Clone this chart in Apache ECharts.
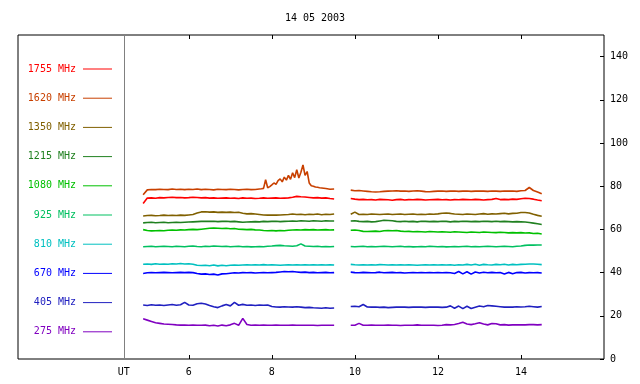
<!DOCTYPE html>
<html>
<head>
<meta charset="utf-8">
<script src="https://cdn.jsdelivr.net/npm/echarts@6/dist/echarts.min.js"></script>
<style>html,body{margin:0;padding:0;background:#fff}#c{width:640px;height:384px}</style>
</head>
<body>
<div id="c"></div>
<script>
const titleText = '14 05 2003';
const xTickValues = [6, 8, 10, 12, 14];
const utPosition = 4.436;
const yTickValues = [0, 20, 40, 60, 80, 100, 120, 140];

const timesA = [4.9,5.0,5.1,5.2,5.3,5.4,5.5,5.6,5.7,5.8,
  5.9,6.0,6.1,6.2,6.3,6.4,6.5,6.6,6.7,6.8,
  6.9,7.0,7.1,7.2,7.3,7.4,7.5,7.6,7.7,7.8,
  7.9,8.0,8.1,8.2,8.3,8.4,8.5,8.6,8.7,8.8,
  8.9,9.0,9.1,9.2,9.3,9.4,9.5];
const timesB = [9.9,10.0,10.1,10.2,10.3,10.4,10.5,10.6,10.7,10.8,
  10.9,11.0,11.1,11.2,11.3,11.4,11.5,11.6,11.7,11.8,
  11.9,12.0,12.1,12.2,12.3,12.4,12.5,12.6,12.7,12.8,
  12.9,13.0,13.1,13.2,13.3,13.4,13.5,13.6,13.7,13.8,
  13.9,14.0,14.1,14.2,14.3,14.4,14.5];
const t1620A = [4.9,5.0,5.1,5.2,5.3,5.4,5.5,5.6,5.7,5.8,
  5.9,6.0,6.1,6.2,6.3,6.4,6.5,6.6,6.7,6.8,
  6.9,7.0,7.1,7.2,7.3,7.4,7.5,7.6,7.7,
  7.75,7.8,7.85,7.9,7.95,8.0,8.05,8.1,8.15,8.2,
  8.25,8.3,8.35,8.4,8.45,8.5,8.55,8.6,8.65,8.7,
  8.75,8.8,8.85,8.9,8.95,9.0,9.05,9.1,9.15,
  9.2,9.3,9.4,9.5];

const labels = ['1755 MHz','1620 MHz','1350 MHz','1215 MHz','1080 MHz','925 MHz','810 MHz','670 MHz','405 MHz','275 MHz'];
const colors = ['#ff0000','#c84000','#806000','#208020','#00c000','#00c060','#00c0c0','#0000ff','#2020c0','#8000c0'];

const v1755A = [72.0,74.5,74.6,74.4,74.7,74.6,74.8,74.9,74.7,74.8,
  74.6,74.7,74.9,74.8,74.6,74.7,74.5,74.6,74.4,74.5,
  74.6,74.4,74.5,74.3,74.6,74.4,74.5,74.3,74.4,74.6,
  74.4,74.5,74.6,74.4,74.5,74.6,74.9,75.3,75.1,75.0,
  74.8,74.6,74.7,74.5,74.6,74.3,74.1];
const v1755B = [74.3,74.0,73.8,73.9,73.7,73.8,73.6,73.9,73.8,73.7,
  73.5,73.8,73.9,73.6,73.8,73.7,73.9,73.8,73.6,73.7,
  73.8,73.9,73.7,73.8,73.6,73.8,73.7,73.9,73.8,73.7,
  73.9,73.8,73.6,73.8,73.9,74.3,73.8,73.9,73.8,74.0,
  73.9,74.2,74.4,74.3,74.0,73.6,73.3];
const v1620A = [76.0,78.3,78.5,78.4,78.6,78.5,78.4,78.7,78.5,78.6,
  78.4,78.6,78.5,78.7,78.4,78.6,78.5,78.3,78.6,78.5,
  78.4,78.6,78.5,78.3,78.5,78.6,78.4,78.5,78.7,
  78.8,79.0,83.0,79.3,79.8,80.6,81.5,80.8,82.6,83.4,
  82.0,84.2,82.8,85.0,83.2,86.2,84.0,87.6,83.8,86.5,
  89.8,85.0,86.8,81.5,80.2,80.0,79.6,79.5,79.3,
  79.2,78.9,78.6,78.7];
const v1620B = [78.2,77.9,78.0,77.8,77.6,77.4,77.3,77.4,77.6,77.7,
  77.8,77.9,77.7,77.8,77.6,77.8,77.9,77.7,77.5,77.4,
  77.6,77.7,77.8,77.6,77.7,77.8,77.6,77.7,77.8,77.6,
  77.7,77.8,77.7,77.6,77.8,77.7,77.6,77.8,77.7,77.8,
  77.6,77.9,78.0,79.4,78.0,77.3,76.5];
const v1350A = [66.2,66.4,66.5,66.3,66.4,66.6,66.4,66.5,66.4,66.6,
  66.5,66.7,66.9,67.6,68.1,68.2,68.0,68.1,67.9,68.0,
  67.9,68.0,67.8,67.9,67.5,67.2,67.3,67.1,66.9,66.7,
  66.6,66.7,66.6,66.7,66.8,66.9,67.1,66.9,67.0,66.8,
  67.0,66.9,67.1,66.8,67.0,66.9,67.1];
const v1350B = [67.0,68.0,66.9,67.0,66.9,67.1,67.0,66.9,67.0,67.1,
  66.9,67.0,67.1,66.9,67.0,67.1,66.9,67.0,66.9,67.1,
  67.0,67.2,67.5,67.6,67.4,67.1,67.0,66.9,67.1,67.0,
  66.9,67.1,67.3,67.0,67.2,67.1,67.3,67.5,67.2,67.4,
  67.5,67.8,67.8,67.6,67.0,66.5,66.1];
const v1215A = [63.0,63.2,63.3,63.1,63.2,63.3,63.1,63.2,63.3,63.2,
  63.3,63.4,63.5,63.6,63.7,63.8,63.7,63.8,63.6,63.7,
  63.8,63.6,63.7,63.5,63.3,63.4,63.5,63.6,63.5,63.7,
  63.6,63.7,63.8,63.6,63.7,63.8,63.9,63.8,64.0,63.9,
  63.8,64.0,63.9,63.8,64.0,63.9,63.9];
const v1215B = [63.9,64.0,63.7,63.6,63.7,63.5,63.6,63.9,64.2,64.1,
  64.0,63.7,63.6,63.8,63.6,63.7,63.5,63.8,63.7,63.6,
  63.7,63.6,63.8,63.7,63.5,63.7,63.6,63.8,63.7,63.6,
  63.7,63.6,63.8,63.7,63.6,63.8,63.6,63.7,63.6,63.5,
  63.6,63.5,63.4,63.2,62.9,62.6,62.3];
const v1080A = [59.9,59.5,59.3,59.4,59.5,59.4,59.6,59.7,59.6,59.8,
  59.7,59.9,60.0,59.9,60.1,60.3,60.5,60.6,60.5,60.4,
  60.5,60.3,60.4,60.1,60.0,59.9,60.0,59.8,59.7,59.5,
  59.4,59.5,59.3,59.5,59.4,59.6,59.7,59.8,59.7,59.9,
  59.8,59.9,59.7,59.8,59.9,59.7,59.8];
const v1080B = [59.6,59.7,59.5,59.1,59.0,59.1,59.2,59.0,59.4,59.5,
  59.4,59.5,59.2,59.0,59.1,58.9,59.0,58.9,58.8,59.0,
  58.9,58.8,58.9,58.8,58.7,58.9,58.8,58.7,58.6,58.8,
  58.7,58.6,58.8,58.7,58.6,58.5,58.7,58.6,58.4,58.5,
  58.4,58.5,58.3,58.4,58.1,58.2,57.9];
const v925A = [52.0,52.1,52.2,52.0,52.1,52.2,52.1,52.0,52.2,52.1,
  52.0,52.2,52.3,52.1,52.0,52.2,52.1,52.3,52.2,52.1,
  52.2,52.0,52.1,52.2,52.0,52.1,51.9,52.0,52.1,52.0,
  52.2,52.3,52.5,52.6,52.4,52.3,52.2,52.4,53.3,52.3,
  52.2,52.1,52.2,52.0,52.1,52.0,52.1];
const v925B = [52.1,52.0,52.1,52.2,52.0,52.1,52.0,52.1,52.2,52.1,
  52.0,52.1,52.2,52.0,52.1,51.9,52.0,52.1,52.0,52.2,
  52.1,52.0,52.1,51.9,52.0,52.1,52.0,52.1,52.2,52.0,
  52.1,52.0,52.1,52.2,52.1,52.0,52.1,52.2,52.1,52.0,
  52.2,52.3,52.6,52.8,52.7,52.8,52.8];
const v810A = [43.9,44.0,43.8,44.1,43.9,44.0,43.9,44.1,44.0,44.2,
  44.0,44.1,43.9,43.4,43.3,43.4,43.2,43.5,43.1,43.4,
  43.2,43.4,43.5,43.4,43.5,43.6,43.5,43.6,43.5,43.7,
  43.5,43.6,43.5,43.4,43.5,43.6,43.5,43.6,43.5,43.6,
  43.5,43.6,43.5,43.6,43.5,43.6,43.5];
const v810B = [43.8,43.6,43.5,43.6,43.5,43.6,43.5,43.7,43.6,43.5,
  43.6,43.5,43.6,43.5,43.6,43.5,43.4,43.5,43.6,43.5,
  43.6,43.5,43.6,43.5,43.6,43.4,43.6,43.5,43.8,43.5,
  43.9,43.4,43.8,43.6,43.5,43.8,43.6,43.9,43.5,43.8,
  43.6,43.8,43.9,44.0,44.0,43.9,43.7];
const v670A = [39.6,39.9,40.0,39.9,40.0,40.1,40.0,39.9,40.0,40.1,
  40.0,40.1,40.0,39.6,39.3,39.4,39.1,39.3,38.9,39.4,
  39.5,39.7,39.9,39.8,40.0,39.9,40.0,39.8,39.9,40.0,
  39.9,40.0,40.1,40.3,40.5,40.4,40.5,40.3,40.1,40.2,
  40.0,40.1,39.9,40.0,40.1,39.9,40.0];
const v670B = [40.2,40.0,39.9,40.1,40.0,39.9,40.0,40.2,39.9,40.0,
  40.1,39.9,40.0,39.8,39.9,40.0,39.9,40.0,39.9,40.0,
  39.9,40.0,39.9,40.0,39.9,39.6,40.5,39.4,40.4,39.3,
  40.3,39.8,40.2,39.9,40.1,39.9,40.0,39.4,40.1,39.5,
  40.0,40.1,39.8,40.0,39.9,40.0,39.8];
const v405A = [25.0,24.8,25.1,24.9,25.0,24.8,25.0,25.2,24.9,25.1,
  26.2,25.0,24.9,25.6,25.8,25.5,24.8,24.2,23.8,24.6,
  25.2,24.6,26.2,24.9,25.3,24.9,25.0,24.8,25.0,24.9,
  25.0,24.3,24.1,24.0,24.2,24.1,24.0,24.2,24.0,23.8,
  23.9,23.7,23.6,23.5,23.7,23.5,23.6];
const v405B = [24.3,24.4,24.2,25.2,24.1,24.0,24.1,23.9,24.0,23.8,
  23.9,24.0,24.1,24.0,23.9,24.0,24.1,24.0,23.9,24.0,
  24.1,24.0,23.9,24.0,24.6,23.5,24.5,23.3,24.4,23.4,
  24.0,24.5,24.2,24.8,24.6,24.4,24.2,24.0,24.1,24.0,
  24.2,24.1,24.2,24.4,24.2,24.0,24.3];
const v275A = [18.6,18.0,17.4,16.8,16.5,16.2,16.1,16.0,15.8,15.7,
  15.7,15.6,15.7,15.6,15.6,15.7,15.4,15.6,15.3,15.7,
  15.4,15.8,16.5,15.6,18.8,16.0,15.6,15.7,15.6,15.7,
  15.6,15.6,15.7,15.6,15.6,15.6,15.7,15.6,15.6,15.6,
  15.6,15.6,15.5,15.6,15.6,15.6,15.6];
const v275B = [15.6,15.6,16.5,15.6,15.6,15.7,15.6,15.6,15.6,15.7,
  15.6,15.6,15.5,15.6,15.6,15.6,15.8,15.6,15.6,15.6,
  15.6,15.5,15.6,15.9,15.8,16.0,16.4,17.0,16.2,15.9,
  16.3,16.8,16.2,15.8,16.4,16.3,15.8,15.9,15.7,15.8,
  15.8,15.8,15.8,15.9,15.9,15.8,15.9];
const gapTime = 9.7;

const seriesValues = [
  [timesA, v1755A, v1755B],
  [t1620A, v1620A, v1620B],
  [timesA, v1350A, v1350B],
  [timesA, v1215A, v1215B],
  [timesA, v1080A, v1080B],
  [timesA, v925A, v925B],
  [timesA, v810A, v810B],
  [timesA, v670A, v670B],
  [timesA, v405A, v405B],
  [timesA, v275A, v275B]
];

function build(tA, vA, vB) {
  const a = tA.map((t, i) => [t, vA[i]]);
  const b = timesB.map((t, i) => [t, vB[i]]);
  return a.concat([[gapTime, null]], b);
}

const FONT = 'DejaVu Sans Mono';
const series = labels.map((name, k) => ({
  name: name,
  type: 'line',
  data: build(seriesValues[k][0], seriesValues[k][1], seriesValues[k][2]),
  showSymbol: false,
  symbol: 'none',
  connectNulls: false,
  lineStyle: { color: colors[k], width: 1.6 },
  itemStyle: { color: colors[k] },
  z: 3
}));
series.push({
  name: 'ut-line',
  type: 'line',
  data: [],
  markLine: {
    silent: true,
    symbol: 'none',
    label: { show: false },
    lineStyle: { color: '#808080', width: 1, type: 'solid' },
    data: [{ xAxis: utPosition }]
  }
});

const chart = echarts.init(document.getElementById('c'), null, { renderer: 'canvas' });
chart.setOption({
  animation: false,
  backgroundColor: '#ffffff',
  title: {
    text: titleText,
    left: 310, top: 8, textAlign: 'center',
    textStyle: { fontFamily: FONT, fontSize: 10, fontWeight: 'normal', color: '#000' }
  },
  legend: {
    orient: 'vertical',
    align: 'right',
    right: 523,
    top: 57,
    itemWidth: 29,
    itemHeight: 1,
    itemGap: 15.2,
    icon: 'rect',
    selectedMode: false,
    data: labels.map((n, k) => ({ name: n, textStyle: { color: colors[k] } })),
    textStyle: { fontFamily: FONT, fontSize: 10, lineHeight: 14, padding: [0, 2, 0, 0] }
  },
  grid: {
    left: 18, right: 36, top: 35, bottom: 25,
    show: true, borderColor: '#000', borderWidth: 1, backgroundColor: 'transparent'
  },
  xAxis: [{
    type: 'value', position: 'bottom',
    min: 1.886, max: 16,
    axisLine: { show: false },
    splitLine: { show: false },
    axisTick: { show: true, inside: true, length: 4, lineStyle: { color: '#000' }, customValues: xTickValues },
    axisLabel: {
      margin: 8, color: '#000', fontFamily: FONT, fontSize: 10,
      customValues: [utPosition].concat(xTickValues),
      formatter: v => (Math.abs(v - utPosition) < 1e-6 ? 'UT' : String(v))
    }
  }, {
    type: 'value', position: 'top',
    min: 1.886, max: 16,
    axisLine: { show: false },
    splitLine: { show: false },
    axisTick: { show: true, inside: true, length: 4, lineStyle: { color: '#000' }, customValues: xTickValues },
    axisLabel: { show: false }
  }],
  yAxis: {
    type: 'value', position: 'right',
    min: 0, max: 150,
    axisLine: { show: false },
    splitLine: { show: false },
    axisTick: { show: true, inside: true, length: 4, lineStyle: { color: '#000' }, customValues: yTickValues },
    axisLabel: { margin: 6, color: '#000', fontFamily: FONT, fontSize: 10, customValues: yTickValues }
  },
  series: series
});
</script>
</body>
</html>
